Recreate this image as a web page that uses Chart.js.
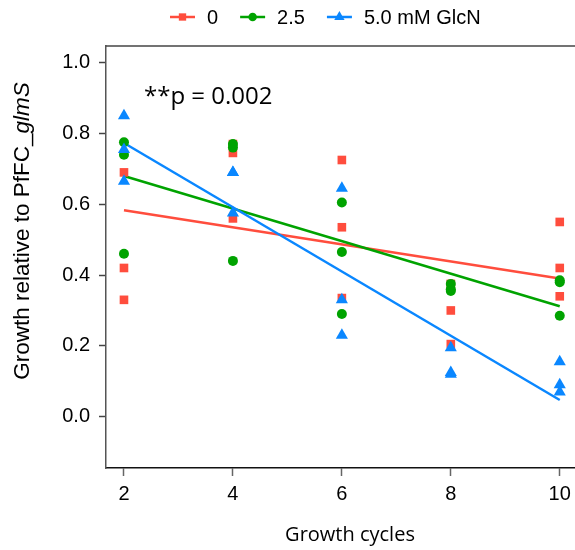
<!DOCTYPE html>
<html lang="en">
<head>
    <meta charset="UTF-8">
    <title>Growth relative to PfFC_glmS</title>
    <script src="https://cdn.jsdelivr.net/npm/chart.js"></script>
    <style>
        body { margin: 0; background: #fff; }
        #wrap { width: 575px; height: 550px; }
    </style>
</head>
<body>
    <div id="wrap"><canvas id="growthChart" width="575" height="550"></canvas></div>
    <script>
        // growth cycles and the three replicates read at each cycle
        const cycles = [2, 4, 6, 8, 10];
        const seriesLabels = ["0", "2.5", "5.0 mM GlcN"];
        const glcn0 = [[0.69, 0.42, 0.33], [0.77, 0.745, 0.56], [0.725, 0.535, 0.335], [0.375, 0.30, 0.205], [0.55, 0.42, 0.34]];
        const glcn25 = [[0.775, 0.74, 0.46], [0.77, 0.76, 0.44], [0.605, 0.465, 0.29], [0.375, 0.36, 0.355], [0.385, 0.285, 0.38]];
        const glcn50 = [[0.85, 0.755, 0.665], [0.69, 0.69, 0.575], [0.645, 0.33, 0.23], [0.195, 0.125, 0.12], [0.155, 0.09, 0.07]];
        // fitted trend lines, value at first and last cycle
        const fitX = [2, 10];
        const fit0 = [0.583, 0.39];
        const fit25 = [0.68, 0.312];
        const fit50 = [0.773, 0.047];
        const yTicks = [0.0, 0.2, 0.4, 0.6, 0.8, 1.0];
        const pText = "**p = 0.002";

        const colors = ["#FF4D3D", "#00A300", "#0A87FF"];
        const shapes = ["rect", "circle", "triangle"];
        const radii = [6.1, 5, 7];

        function toPoints(groups) {
            const pts = [];
            groups.forEach((vals, i) => vals.forEach(v => pts.push({ x: cycles[i], y: v })));
            return pts;
        }
        function toLine(vals) {
            return vals.map((v, i) => ({ x: fitX[i], y: v }));
        }

        const groups = [glcn0, glcn25, glcn50];
        const fits = [fit0, fit25, fit50];
        const datasets = [];
        groups.forEach((g, i) => {
            datasets.push({
                label: seriesLabels[i],
                data: toPoints(g),
                backgroundColor: colors[i],
                borderColor: colors[i],
                borderWidth: 0,
                pointStyle: shapes[i],
                pointRadius: radii[i],
                pointHoverRadius: radii[i],
                order: 3 - i
            });
            datasets.push({
                label: seriesLabels[i] + " fit",
                data: toLine(fits[i]),
                showLine: true,
                borderColor: colors[i],
                borderWidth: 2.5,
                pointRadius: 0,
                order: 10 - i
            });
        });

        const extras = {
            id: "extras",
            afterDraw(chart) {
                const ctx = chart.ctx;
                const area = chart.chartArea;
                ctx.save();
                // top border of the box
                ctx.strokeStyle = "#444";
                ctx.lineWidth = 1.5;
                ctx.beginPath();
                ctx.moveTo(area.left, area.top);
                ctx.lineTo(area.right, area.top);
                ctx.stroke();

                // legend
                ctx.font = "20px 'Liberation Sans', Arial, sans-serif";
                ctx.textBaseline = "middle";
                let lx = 170;
                const ly = 17;
                seriesLabels.forEach((lab, i) => {
                    ctx.strokeStyle = colors[i];
                    ctx.lineWidth = 2.5;
                    ctx.beginPath();
                    ctx.moveTo(lx, ly);
                    ctx.lineTo(lx + 25, ly);
                    ctx.stroke();
                    ctx.fillStyle = colors[i];
                    Chart.helpers.drawPoint(ctx, { pointStyle: shapes[i], radius: radii[i] * 0.85, borderWidth: 0 }, lx + 12.5, ly);
                    ctx.fillStyle = "#000";
                    ctx.textAlign = "left";
                    ctx.fillText(lab, lx + 37, ly + 1);
                    lx += 37 + ctx.measureText(lab).width + 22;
                });

                // p value
                ctx.font = "24px 'Open Sans', sans-serif";
                ctx.fillStyle = "#000";
                ctx.textAlign = "left";
                ctx.fillText(pText, 144, 97);

                // x title
                ctx.font = "20px 'Open Sans', sans-serif";
                ctx.textAlign = "center";
                ctx.fillText("Growth cycles", 350, 535);

                // y title with italic gene name
                ctx.translate(23, 231);
                ctx.rotate(-Math.PI / 2);
                const plain = "Growth relative to PfFC_";
                const ital = "glmS";
                const fs = "22.5px 'Liberation Sans', Arial, sans-serif";
                ctx.font = fs;
                const w1 = ctx.measureText(plain).width;
                ctx.font = "italic " + fs;
                const w2 = ctx.measureText(ital).width;
                const start = -(w1 + w2) / 2;
                ctx.textAlign = "left";
                ctx.font = fs;
                ctx.fillText(plain, start, 0);
                ctx.font = "italic " + fs;
                ctx.fillText(ital, start + w1, 0);
                ctx.restore();
            }
        };

        new Chart(document.getElementById("growthChart"), {
            type: "scatter",
            data: { datasets: datasets },
            options: {
                responsive: false,
                animation: false,
                layout: { autoPadding: false, padding: { top: 46, left: 0, right: 0, bottom: 0 } },
                plugins: { legend: { display: false }, tooltip: { enabled: false } },
                scales: {
                    x: {
                        type: "linear",
                        min: 1.67,
                        max: 10.28,
                        afterBuildTicks: s => { s.ticks = cycles.map(v => ({ value: v })); },
                        afterFit: s => { s.height = 82; s.paddingRight = 0; s.paddingLeft = 0; },
                        ticks: {
                            autoSkip: false,
                            maxRotation: 0,
                            padding: 6,
                            color: "#000",
                            font: { family: "'Liberation Sans', Arial, sans-serif", size: 20 }
                        },
                        grid: { drawOnChartArea: false, drawTicks: true, tickLength: 8, tickColor: "#666", tickWidth: 1.5 },
                        border: { display: true, color: "#111", width: 1.5 }
                    },
                    y: {
                        min: -0.145,
                        max: 1.047,
                        afterBuildTicks: s => { s.ticks = yTicks.map(v => ({ value: v })); },
                        afterFit: s => { s.width = 106; s.paddingTop = 0; s.paddingBottom = 0; },
                        ticks: {
                            padding: 9,
                            color: "#000",
                            callback: v => v.toFixed(1),
                            font: { family: "'Liberation Sans', Arial, sans-serif", size: 20 }
                        },
                        grid: { drawOnChartArea: false, drawTicks: true, tickLength: 7, tickColor: "#444", tickWidth: 1.5 },
                        border: { display: true, color: "#555", width: 1.5 }
                    }
                }
            },
            plugins: [extras]
        });
    </script>
</body>
</html>
